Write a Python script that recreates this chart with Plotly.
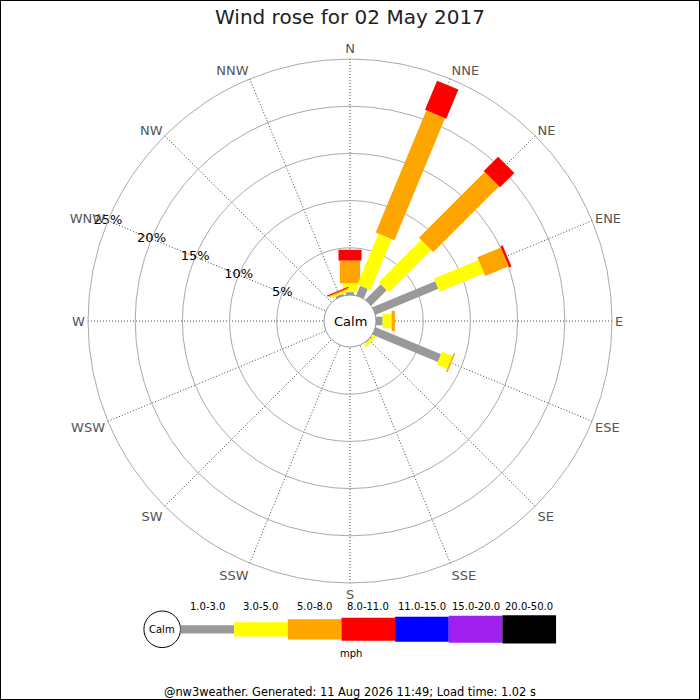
#%%
# wind rose for one day, plotly version
import math
import plotly.graph_objects as go

#%%
# data (percent of the day, per direction and speed band)
dirs = ["N", "NNE", "NE", "ENE", "E", "ESE", "SE", "SSE",
        "S", "SSW", "SW", "WSW", "W", "WNW", "NW", "NNW"]
bands = ["1.0-3.0", "3.0-5.0", "5.0-8.0", "8.0-11.0",
         "11.0-15.0", "15.0-20.0", "20.0-50.0"]

spd_1_3 = [0.3, 1.1, 2.3, 7.2, 0.7, 7.5, 0.1, 0, 0, 0, 0, 0, 0, 0, 0, 0.2]
spd_3_5 = [0.95, 5.85, 6.35, 5.1, 0.95, 1.2, 0.3, 0, 0, 0, 0, 0, 0, 0, 0, 0.2]
spd_5_8 = [2.4, 14.0, 9.85, 2.7, 0.35, 0.17, 0, 0, 0, 0, 0, 0, 0, 0, 0, 0.15]
spd_8_11 = [1.15, 3.35, 2.15, 0.25, 0, 0, 0, 0, 0, 0, 0, 0, 0, 0, 0, 0.12]
spd_11_15 = [0] * 16
spd_15_20 = [0] * 16
spd_20_50 = [0] * 16
freqs = [spd_1_3, spd_3_5, spd_5_8, spd_8_11, spd_11_15, spd_15_20, spd_20_50]

pct_ticks = [5, 10, 15, 20, 25]

#%%
# styling
colors = ["#999999", "#ffff00", "#ffa500", "#ff0000", "#0000ff", "#a020f0", "#000000"]
thick = [8.3, 14.3, 20.3, 23, 25, 27, 28.3]  # bar width in px for each band
font = "DejaVu Sans"

W = 700
cx, cy = 350, 321
R = 262
calm_r = 26
k = (R - calm_r) / pct_ticks[-1]   # px per percent
rmin = -calm_r / k                 # radial value at the centre

bearings = [i * 360 / len(dirs) for i in range(len(dirs))]


def px2r(d):
    return d / k + rmin


def seg_poly(bearing, v0, v1, w):
    # rectangle (not a wedge) from v0 to v1 along a direction, w px wide
    d0 = (v0 - rmin) * k
    d1 = (v1 - rmin) * k
    rs, ths = [], []
    for d, off in [(d0, -w / 2), (d1, -w / 2), (d1, w / 2), (d0, w / 2), (d0, -w / 2)]:
        rs.append(px2r(math.hypot(d, off)))
        ths.append(bearing + math.degrees(math.atan2(off, d)))
    return rs, ths


fig = go.Figure()

for i, b in enumerate(bearings):
    cum = rmin
    for j, f in enumerate(freqs):
        v = f[i]
        if v <= 0:
            continue
        top = v if cum == rmin else cum + v
        rs, ths = seg_poly(b, cum, top, thick[j])
        fig.add_trace(go.Scatterpolar(r=rs, theta=ths, mode="none", fill="toself",
                                      fillcolor=colors[j], hoverinfo="skip",
                                      showlegend=False))
        cum = top

# % labels along WNW
fig.add_trace(go.Scatterpolar(r=pct_ticks, theta=[bearings[dirs.index("WNW")]] * len(pct_ticks),
                              mode="text", text=[f"{p}%" for p in pct_ticks],
                              textfont=dict(family=font, size=13, color="black"),
                              textposition="middle center", hoverinfo="skip",
                              showlegend=False))


def px(x):
    return x / W


def py(y):
    return 1 - y / W


fig.update_layout(
    width=W, height=W,
    margin=dict(l=0, r=0, t=0, b=0),
    paper_bgcolor="white",
    font=dict(family=font),
    title=dict(text="Wind rose for 02 May 2017", x=0.5, xanchor="center",
               y=py(17), yanchor="middle", yref="container",
               font=dict(family=font, size=20, color="#222")),
    polar=dict(
        domain=dict(x=[px(cx - R), px(cx + R)], y=[py(cy + R), py(cy - R)]),
        bgcolor="white",
        radialaxis=dict(range=[rmin, pct_ticks[-1]], tickvals=pct_ticks,
                        showticklabels=False, ticks="", showline=False,
                        gridcolor="#aaaaaa", gridwidth=1),
        angularaxis=dict(rotation=90, direction="clockwise",
                         tickvals=bearings, ticktext=dirs, ticks="",
                         tickfont=dict(family=font, size=13, color="#555"),
                         showline=True, linecolor="#aaaaaa", linewidth=1,
                         gridcolor="#444444", griddash="1px,2px", gridwidth=1),
    ),
)

shapes = []
annos = []


def note(text, x, y, size, color="black"):
    annos.append(dict(text=text, x=px(x), y=py(y), xref="paper", yref="paper",
                      xanchor="center", yanchor="middle", showarrow=False,
                      font=dict(family=font, size=size, color=color)))


# calm circle in the middle
shapes.append(dict(type="circle", xref="paper", yref="paper", layer="above",
                   x0=px(cx - calm_r), x1=px(cx + calm_r),
                   y0=py(cy + calm_r), y1=py(cy - calm_r),
                   fillcolor="white", line=dict(color="#999999", width=1)))
note("Calm", cx, cy, 13)

# speed legend at the bottom
leg_y = 629.3
leg_x0 = 180.5
leg_w = 53.65
shapes.append(dict(type="circle", xref="paper", yref="paper",
                   x0=px(leg_x0 - 36.6), x1=px(leg_x0), y0=py(leg_y + 18.3), y1=py(leg_y - 18.3),
                   fillcolor="white", line=dict(color="black", width=1)))
note("Calm", leg_x0 - 18.3, leg_y, 10)
for j, lab in enumerate(bands):
    x0 = leg_x0 + j * leg_w
    shapes.append(dict(type="rect", xref="paper", yref="paper",
                       x0=px(x0), x1=px(x0 + leg_w),
                       y0=py(leg_y + thick[j] / 2), y1=py(leg_y - thick[j] / 2),
                       fillcolor=colors[j], line=dict(width=0)))
    note(lab, x0 + leg_w / 2, 606.7, 10)
note("mph", 351, 653, 10)
note("@nw3weather. Generated: 11 Aug 2026 11:49; Load time: 1.02 s", 350, 692, 11.4)

# border
shapes.append(dict(type="rect", xref="paper", yref="paper", x0=0, x1=1, y0=0, y1=1,
                   line=dict(color="black", width=2)))

fig.update_layout(shapes=shapes, annotations=annos)

# page body has a default margin, drop it so the chart sits flush
fig.write_html("out.html", config={"displayModeBar": False},
               post_script="document.body.style.margin='0px';")
